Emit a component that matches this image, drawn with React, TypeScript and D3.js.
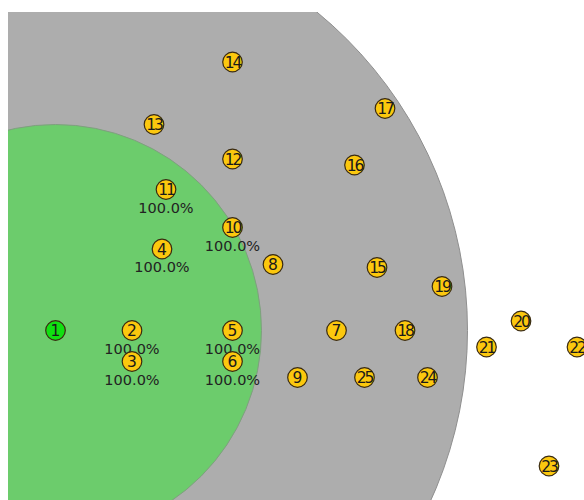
import React from "react";
import * as d3 from "d3";

const nodeIds = [1,2,3,4,5,6,7,8,9,10,11,12,13,14,15,16,17,18,19,20,21,22,23,24,25];
const nodeX = [47.5,124,124,154,224.5,224.5,328.5,265,289.5,224.5,158,224.5,146,224.5,369,346.5,377,397,434,513,478.5,569,541,419.5,356.5];
const nodeY = [318.5,318.5,349.5,237,318.5,349.5,318.5,252.5,365.5,215.5,177.5,147,112.5,50,255.5,153,96.5,318.5,274.5,309,335,335,454,365.5,365.5];
const nodeLabels = ["","100.0%","100.0%","100.0%","100.0%","100.0%","","","","100.0%","100.0%","","","","","","","","","","","","","",""];
const rangeRadii = [412, 206];

const W = 584, H = 500;
const X0 = 8, Y0 = 12;

export default function App() {
  const xs = d3.scaleLinear().domain([0, W - X0]).range([X0, W]);
  const ys = d3.scaleLinear().domain([0, H - Y0]).range([Y0, H]);
  const rs = d3.scaleLinear().domain([0, 1]).range([0, 1]);
  const cx = xs(nodeX[0]);
  const cy = ys(nodeY[0]);
  return (
    <svg width={W} height={H} style={{ position: "absolute", left: 0, top: 0, display: "block" }}>
      <defs>
        <clipPath id="plot">
          <rect x={X0} y={Y0} width={W - X0} height={H - Y0} />
        </clipPath>
      </defs>
      <rect x={0} y={0} width={W} height={H} fill="#ffffff" />
      <g clipPath="url(#plot)">
        <circle cx={cx} cy={cy} r={rs(rangeRadii[0])} fill="#adadad" stroke="#8f8f8f" strokeWidth={1} />
        <circle cx={cx} cy={cy} r={rs(rangeRadii[1])} fill="#6ccc6c" stroke="#7f9f7f" strokeWidth={1} />
        {nodeIds.map((id, i) => (
          <g key={id} transform={`translate(${xs(nodeX[i])},${ys(nodeY[i])})`}>
            <circle r={9.8} fill={i === 0 ? "#11e011" : "#fcc80e"} stroke="#3a2a10" strokeWidth={1.2} />
            <text
              textAnchor="middle"
              y={5.5}
              fontFamily="DejaVu Sans"
              fontSize={15.5}
              fill="#1a1a1a"
              letterSpacing={id >= 10 ? -2 : 0}
            >
              {id}
            </text>
            {nodeLabels[i] && (
              <text textAnchor="middle" y={23} fontFamily="DejaVu Sans" fontSize={14.5} fill="#222">
                {nodeLabels[i]}
              </text>
            )}
          </g>
        ))}
      </g>
    </svg>
  );
}
